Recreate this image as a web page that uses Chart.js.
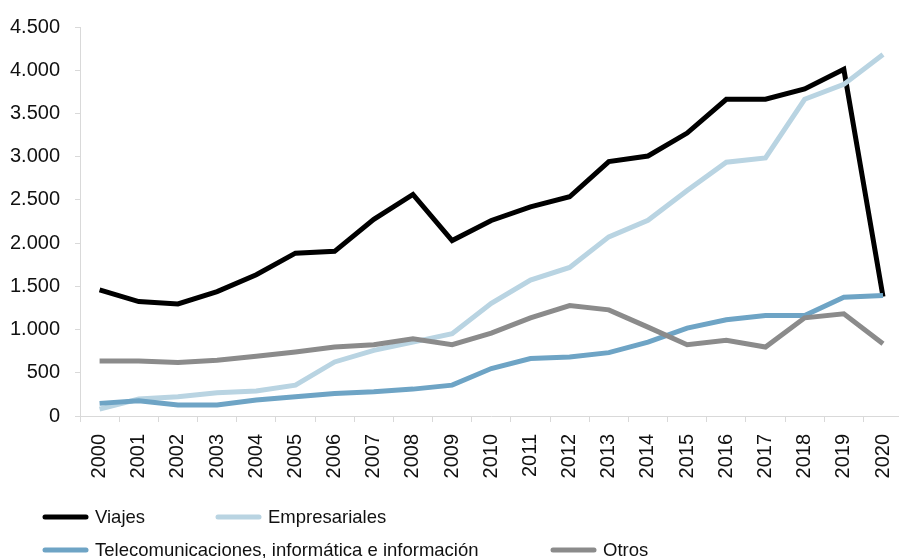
<!DOCTYPE html>
<html>
<head>
<meta charset="utf-8">
<script src="https://cdn.jsdelivr.net/npm/chart.js@4"></script>
<style>
  html, body { margin: 0; padding: 0; background: #fff; overflow: hidden; }
  #wrap { position: relative; width: 919px; height: 558px; }
</style>
</head>
<body>
<div id="wrap"><canvas id="servicios"></canvas></div>
<script>
const years = ['2000','2001','2002','2003','2004','2005','2006','2007','2008','2009','2010',
  '2011','2012','2013','2014','2015','2016','2017','2018','2019','2020'];

const viajes = [1458, 1324, 1297, 1439, 1634, 1884, 1905, 2275, 2563, 2030, 2262,
  2420, 2536, 2943, 3008, 3273, 3664, 3664, 3783, 4010, 1381];
const empresariales = [80, 196, 222, 268, 290, 357, 625, 760, 855, 952, 1304,
  1573, 1718, 2072, 2264, 2609, 2935, 2985, 3664, 3836, 4182];
const telecom = [146, 176, 127, 127, 184, 222, 261, 280, 311, 357, 549,
  664, 683, 733, 855, 1016, 1113, 1163, 1163, 1373, 1393];
const otros = [637, 637, 618, 645, 691, 741, 798, 825, 894, 825, 959,
  1136, 1278, 1228, 1028, 825, 875, 798, 1136, 1182, 837];

const yTicks = [0, 500, 1000, 1500, 2000, 2500, 3000, 3500, 4000, 4500];

const FONT = '"Liberation Sans", Arial, sans-serif';

// legend in two rows, drawn on the canvas under the axis
const legendSlots = [
  { x: 43, y: 517 }, { x: 216, y: 517 },
  { x: 43, y: 550 }, { x: 551, y: 550 }
];

const twoRowLegend = {
  id: 'twoRowLegend',
  afterDraw(chart) {
    const ctx = chart.ctx;
    ctx.save();
    ctx.font = '18.5px ' + FONT;
    ctx.textBaseline = 'middle';
    ctx.textAlign = 'left';
    chart.data.datasets.forEach((ds, i) => {
      const s = legendSlots[i];
      ctx.strokeStyle = ds.borderColor;
      ctx.lineWidth = 5;
      ctx.lineCap = 'round';
      ctx.beginPath();
      ctx.moveTo(s.x + 2, s.y);
      ctx.lineTo(s.x + 43, s.y);
      ctx.stroke();
      ctx.fillStyle = '#111';
      ctx.fillText(ds.label, s.x + 52, s.y + 1);
    });
    ctx.restore();
  }
};

function fmt(v) {
  return String(v).replace(/\B(?=(\d{3})+(?!\d))/g, '.');
}

function line(label, data, color, order) {
  return {
    label: label,
    data: data,
    borderColor: color,
    backgroundColor: color,
    borderWidth: 5,
    pointRadius: 0,
    pointHoverRadius: 0,
    tension: 0,
    fill: false,
    order: order
  };
}

new Chart(document.getElementById('servicios'), {
  type: 'line',
  data: {
    labels: years,
    datasets: [
      line('Viajes', viajes, '#000000', 4),
      line('Empresariales', empresariales, '#b9d4e2', 3),
      line('Telecomunicaciones, informática e información', telecom, '#6ea4c5', 2),
      line('Otros', otros, '#8b8b8b', 1)
    ]
  },
  options: {
    responsive: true,
    maintainAspectRatio: false,
    animation: false,
    layout: { padding: { top: 25, right: 0, bottom: 0, left: 0 } },
    plugins: {
      legend: { display: false },
      tooltip: { enabled: false }
    },
    scales: {
      x: {
        offset: true,
        grid: {
          display: true,
          drawOnChartArea: false,
          drawTicks: true,
          tickLength: 6,
          offset: true,
          color: '#d9d9d9'
        },
        border: { color: '#d9d9d9', width: 1 },
        ticks: {
          color: '#111',
          font: { family: FONT, size: 20 },
          minRotation: 90,
          maxRotation: 90,
          autoSkip: false,
          padding: 12
        },
        afterFit(scale) { scale.height = 142; }
      },
      y: {
        min: 0,
        max: 4500,
        afterBuildTicks(scale) { scale.ticks = yTicks.map(v => ({ value: v })); },
        grid: {
          display: true,
          drawOnChartArea: false,
          drawTicks: true,
          tickLength: 5,
          color: '#d9d9d9'
        },
        border: { color: '#d9d9d9', width: 1 },
        ticks: {
          color: '#111',
          font: { family: FONT, size: 20 },
          padding: 15,
          callback: v => fmt(v)
        },
        afterFit(scale) { scale.width = 80; }
      }
    }
  },
  plugins: [twoRowLegend]
});
</script>
</body>
</html>
